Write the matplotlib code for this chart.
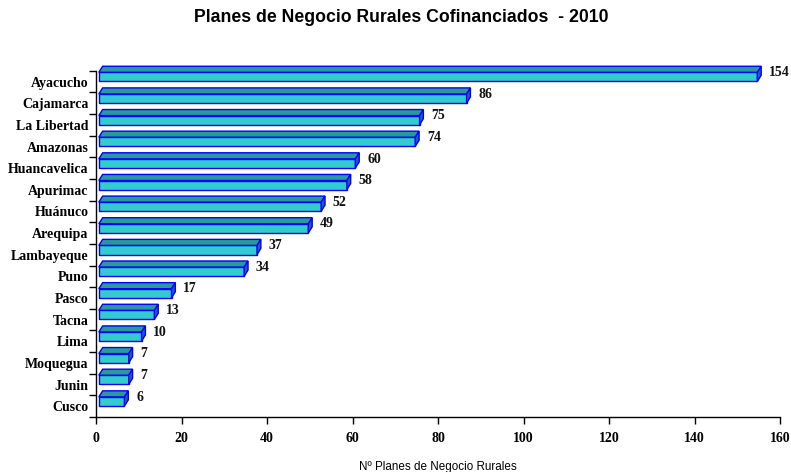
import matplotlib
matplotlib.use("Agg")
import matplotlib.pyplot as plt
from matplotlib.patches import Polygon

regiones = ["Ayacucho", "Cajamarca", "La Libertad", "Amazonas", "Huancavelica",
            "Apurimac", "Huánuco", "Arequipa", "Lambayeque", "Puno", "Pasco",
            "Tacna", "Lima", "Moquegua", "Junin", "Cusco"]
planes = [154, 86, 75, 74, 60, 58, 52, 49, 37, 34, 17, 13, 10, 7, 7, 6]
xticks = [0, 20, 40, 60, 80, 100, 120, 140, 160]

serif = "Liberation Serif"
sans = "Liberation Sans"

fig = plt.figure(figsize=(7.91, 4.72), dpi=100)
ax = fig.add_axes([0.1214, 0.1165, 0.865, 0.7335])

# barras con efecto 3D
off = 0.65
dx, dy = 0.9, 0.28
y_top, y_bot = -0.43, -0.01
for i, v in enumerate(planes):
    x0, x1 = off, v + off
    front = Polygon([(x0, i + y_bot), (x1, i + y_bot), (x1, i + y_top), (x0, i + y_top)],
                    closed=True, facecolor="#33CCCC", edgecolor="#0000FF", lw=1.0, clip_on=False)
    top = Polygon([(x0, i + y_top), (x1, i + y_top), (x1 + dx, i + y_top - dy), (x0 + dx, i + y_top - dy)],
                  closed=True, facecolor="#2A9999", edgecolor="#0000FF", lw=1.0, clip_on=False)
    side = Polygon([(x1, i + y_bot), (x1, i + y_top), (x1 + dx, i + y_top - dy), (x1 + dx, i + y_bot - dy)],
                   closed=True, facecolor="#1F5FA8", edgecolor="#0000FF", lw=1.0, clip_on=False)
    for p in (front, top, side):
        ax.add_patch(p)
    ax.text(v + 3.4, i - 0.42, str(v), ha="left", va="center", fontsize=10,
            fontweight="bold", family=serif, color="#111111")

ax.set_xlim(0, 160)
ax.set_ylim(len(regiones) - 0.5, -0.5)
ax.set_xticks(xticks)
ax.set_xticklabels([str(t) for t in xticks], fontsize=10, fontweight="bold", family=serif)
ax.set_yticks(range(len(regiones)))
ax.set_yticklabels(regiones, fontsize=10, fontweight="bold", family=serif)
ax.set_yticks([i + 0.5 for i in range(-1, len(regiones))], minor=True)
ax.tick_params(axis="y", which="major", length=0, pad=5.5)
ax.tick_params(axis="y", which="minor", length=5, width=1, direction="out")
ax.tick_params(axis="x", length=5, width=1, direction="out", pad=6)

for s in ("top", "right"):
    ax.spines[s].set_visible(False)
for s in ("left", "bottom"):
    ax.spines[s].set_linewidth(1.0)

fig.text(0.507, 0.962, "Planes de Negocio Rurales Cofinanciados  - 2010", ha="center", va="center",
         fontsize=12.7, fontweight="bold", family=sans)
fig.text(0.553, 0.011, "Nº Planes de Negocio Rurales", ha="center", va="center",
         fontsize=8.4, family=sans)

fig.savefig("out.png", dpi=100)
